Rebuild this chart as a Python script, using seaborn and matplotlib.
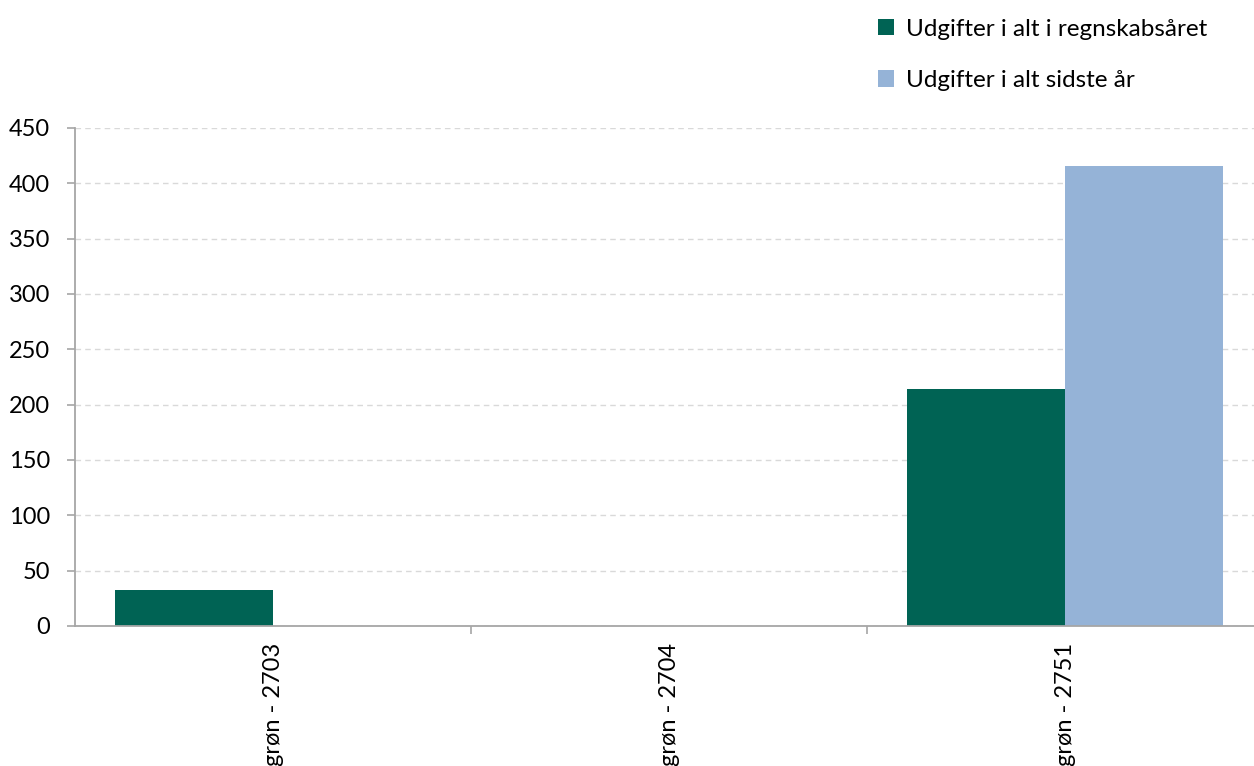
import matplotlib
matplotlib.use("Agg")
import matplotlib.pyplot as plt
import seaborn as sns
import pandas as pd
from matplotlib.ticker import FixedLocator

categories = ["grøn - 2703", "grøn - 2704", "grøn - 2751"]
series_names = ["Udgifter i alt i regnskabsåret", "Udgifter i alt sidste år"]
values_current = [32.5, 0, 214.5]
values_last = [0, 0, 415.5]
colors = ["#006354", "#95B3D7"]

df = pd.DataFrame({
    "Kategori": categories * 2,
    "Serie": [series_names[0]] * 3 + [series_names[1]] * 3,
    "Værdi": values_current + values_last,
})

sns.set_theme(style="white")
plt.rcParams["font.family"] = ["Lato", "DejaVu Sans"]
plt.rcParams["text.color"] = "black"

W, H = 1254, 766
fig = plt.figure(figsize=(W / 100, H / 100), dpi=100)
left, right = 75, 1263
top, bottom = 128, 626
ax = fig.add_axes([left / W, 1 - bottom / H, (right - left) / W, (bottom - top) / H])

sns.barplot(data=df, x="Kategori", y="Værdi", hue="Serie", palette=colors,
            width=0.8, saturation=1, ax=ax, legend=True, linewidth=0)

ax.set_ylim(0, 450)
ax.set_xlim(-0.5, 2.5)
ax.set_yticks(range(0, 451, 50))
ax.set_xlabel("")
ax.set_ylabel("")
ax.yaxis.grid(True, color="#d9d9d9", linestyle=(0, (4, 3)), linewidth=1)
ax.set_axisbelow(True)

for s in ["top", "right"]:
    ax.spines[s].set_visible(False)
for s in ["left", "bottom"]:
    ax.spines[s].set_color("#a6a6a6")
    ax.spines[s].set_linewidth(1.3)

ax.tick_params(axis="y", which="major", left=True, length=6, color="#a6a6a6",
               width=1.2, labelsize=17, labelcolor="black", pad=12)
ax.tick_params(axis="x", which="major", bottom=False, length=0, labelsize=17,
               labelcolor="black", pad=12)
ax.xaxis.set_minor_locator(FixedLocator([0.5, 1.5]))
ax.tick_params(axis="x", which="minor", bottom=True, length=6, color="#a6a6a6", width=1.2)
for lbl in ax.get_xticklabels():
    lbl.set_rotation(90)
    lbl.set_va("top")
    lbl.set_ha("center")

handles, labels = ax.get_legend_handles_labels()
for h in handles:
    h.set_linewidth(0)
ax.legend(handles, labels, loc="upper left", bbox_to_anchor=(868 / W, 1 - 9 / H),
          bbox_transform=fig.transFigure, frameon=False, fontsize=17.5,
          handlelength=0.65, handleheight=0.65, handletextpad=0.5,
          labelspacing=1.25, borderaxespad=0)

fig.savefig("out.png", dpi=100)
